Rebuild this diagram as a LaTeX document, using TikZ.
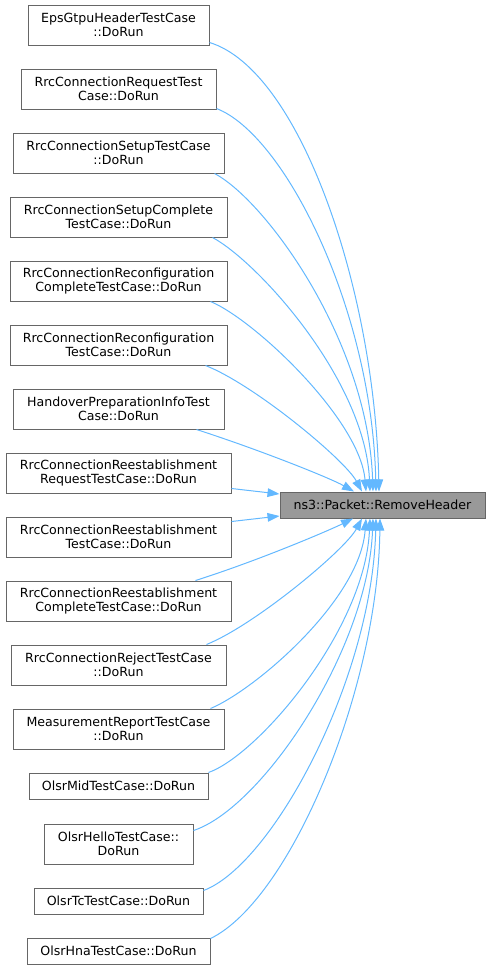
\documentclass[tikz,border=0pt]{standalone}
\usepackage{fontspec}
\setmainfont{DejaVu Sans}
\usetikzlibrary{arrows.meta,calc}
\definecolor{edgeblue}{HTML}{63B8FF}
\definecolor{borderg}{HTML}{666666}
\definecolor{fillg}{HTML}{999999}
\tikzset{
  srcbox/.style={draw=borderg, fill=white, line width=0.75pt, inner sep=0pt, align=center,
    font=\fontsize{9.45pt}{10.5pt}\selectfont},
  tgtbox/.style={srcbox, fill=fillg},
  sz/.style 2 args={minimum width=#1*0.75pt, minimum height=#2*0.75pt},
  link/.style={draw=edgeblue, line width=0.75pt, -{Triangle[length=9pt,width=6.5pt]}, fill=none}
}
\begin{document}
\begin{tikzpicture}[x=0.75pt,y=-0.75pt]
\useasboundingbox (0,0) rectangle (491,968);
% source nodes (centers in px)
\node[srcbox, sz={181}{40}] (eps) at (118.5,25) {EpsGtpuHeaderTestCase\\::DoRun};
\node[srcbox, sz={195}{40}] (req) at (118.5,89) {RrcConnectionRequestTest\\Case::DoRun};
\node[srcbox, sz={211}{40}] (setup) at (118.5,153) {RrcConnectionSetupTestCase\\::DoRun};
\node[srcbox, sz={217}{40}] (setupc) at (118.5,217) {RrcConnectionSetupComplete\\TestCase::DoRun};
\node[srcbox, sz={217}{40}] (recfgc) at (118.5,281) {RrcConnectionReconfiguration\\CompleteTestCase::DoRun};
\node[srcbox, sz={217}{40}] (recfg) at (118.5,345) {RrcConnectionReconfiguration\\TestCase::DoRun};
\node[srcbox, sz={211}{40}] (hand) at (118.5,409) {HandoverPreparationInfoTest\\Case::DoRun};
\node[srcbox, sz={225}{40}] (reestreq) at (118.5,473) {RrcConnectionReestablishment\\RequestTestCase::DoRun};
\node[srcbox, sz={225}{40}] (reest) at (118.5,537) {RrcConnectionReestablishment\\TestCase::DoRun};
\node[srcbox, sz={225}{40}] (reestc) at (118.5,601) {RrcConnectionReestablishment\\CompleteTestCase::DoRun};
\node[srcbox, sz={215}{40}] (reject) at (118.5,665) {RrcConnectionRejectTestCase\\::DoRun};
\node[srcbox, sz={211}{40}] (meas) at (118.5,729) {MeasurementReportTestCase\\::DoRun};
\node[srcbox, sz={179}{26}] (mid) at (118.5,786) {OlsrMidTestCase::DoRun};
\node[srcbox, sz={149}{40}] (hello) at (118.5,844) {OlsrHelloTestCase::\\DoRun};
\node[srcbox, sz={169}{26}] (tc) at (118.5,901) {OlsrTcTestCase::DoRun};
\node[srcbox, sz={183}{26}] (hna) at (118.5,951) {OlsrHnaTestCase::DoRun};
% target
\node[tgtbox, sz={205}{26}] (T) at (382.5,505) {ns3::Packet::RemoveHeader};
% edges into top
\draw[link] ($(eps.south east)+(0,-3)$) .. controls (300,70) and (375,290) .. ($(T.north)+(-3.5,0)$);
\draw[link] ($(req.south east)+(0,-1)$) .. controls (285,135) and (372,310) .. ($(T.north)+(-6.5,0)$);
\draw[link] ($(setup.south east)+(-10,0)$) .. controls (265,200) and (368,340) .. ($(T.north)+(-9.5,0)$);
\draw[link] ($(setupc.south east)+(-15,0)$) .. controls (258,262) and (365,380) .. ($(T.north)+(-12.5,0)$);
\draw[link] ($(recfgc.south east)+(-17,0)$) .. controls (255,320) and (360,420) .. ($(T.north)+(-16.5,0)$);
\draw[link] ($(recfg.south east)+(-22,0)$) .. controls (255,385) and (345,460) .. ($(T.north)+(-20.5,0)$);
\draw[link] ($(hand.south east)+(-28,0)$) .. controls (260,450) and (330,478) .. ($(T.north)+(-28.5,0)$);
% edges into left
\draw[link] ($(reestreq.south east)+(0,-5)$) -- ($(T.west)+(0,-11)$);
\draw[link] ($(reest.north east)+(0,5)$) -- ($(T.west)+(0,11)$);
% edges into bottom
\draw[link] ($(reestc.north east)+(-36,0)$) .. controls (260,560) and (330,530) .. ($(T.south)+(-29.5,0)$);
\draw[link] ($(reject.north east)+(-20,0)$) .. controls (255,625) and (345,550) .. ($(T.south)+(-20.5,0)$);
\draw[link] ($(meas.north east)+(-14,0)$) .. controls (255,690) and (360,600) .. ($(T.south)+(-16.5,0)$);
\draw[link] (mid.north east) .. controls (258,755) and (365,630) .. ($(T.south)+(-12.5,0)$);
\draw[link] ($(hello.north east)+(0,7)$) .. controls (262,808) and (368,650) .. ($(T.south)+(-9.5,0)$);
\draw[link] ($(tc.north east)+(0,3)$) .. controls (272,865) and (372,680) .. ($(T.south)+(-6.5,0)$);
\draw[link] ($(hna.north east)+(0,1)$) .. controls (290,900) and (378,690) .. ($(T.south)+(-2.5,0)$);
\end{tikzpicture}
\end{document}
